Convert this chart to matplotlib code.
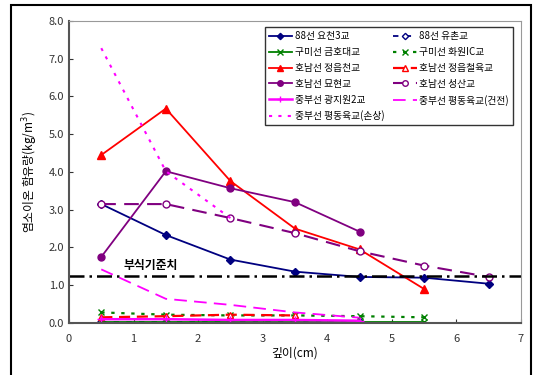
import matplotlib.pyplot as plt
from matplotlib.patches import Rectangle

plt.rcParams['font.family'] = ['Noto Sans CJK KR', 'DejaVu Sans']

depth = [0.5, 1.5, 2.5, 3.5, 4.5, 5.5, 6.5]

yocheon = [3.15, 2.33, 1.68, 1.36, 1.22, 1.20, 1.04]
yuchon = [0.03, 0.03, 0.03, 0.03, 0.03]
geumho = [0.02, 0.02, 0.02, 0.02, 0.02, 0.02]
hwawon = [0.28, 0.22, 0.20, 0.20, 0.18, 0.15]
jeongeup_cheon = [4.45, 5.68, 3.76, 2.50, 1.95, 0.90]
jeongeup_cheol = [0.15, 0.18, 0.22, 0.20]
myohyeon = [1.75, 4.02, 3.57, 3.20, 2.42]
seongsan = [3.15, 3.15, 2.78, 2.38, 1.90, 1.52, 1.22]
gwangjiwon = [0.10, 0.10, 0.08, 0.08, 0.06]
pyeongdong_good = [1.42, 0.64, 0.48, 0.28, 0.14]
pyeongdong_bad = [7.28, 4.02, 2.78]

limit = 1.25

fig = plt.figure(figsize=(5.36, 3.75), dpi=100)
ax = fig.add_axes([0.1287, 0.1387, 0.8433, 0.8053])

def plot(vals, label, **kw):
    ax.plot(depth[:len(vals)], vals, label=label, **kw)

plot(yocheon, '88선 요천3교', color='#000080', lw=1.3, marker='D', ms=4)
plot(yuchon, '88선 유촌교', color='#000080', lw=1.3, ls=(0, (3, 4)), marker='D', ms=4, mfc='white')
plot(geumho, '구미선 금호대교', color='#008000', lw=1.3, marker='x', ms=5)
plot(hwawon, '구미선 화원IC교', color='#008000', lw=1.6, ls=(0, (1.5, 3)), marker='x', ms=5)
plot(jeongeup_cheon, '호남선 정읍천교', color='red', lw=1.3, marker='^', ms=6)
plot(jeongeup_cheol, '호남선 정읍철육교', color='red', lw=1.6, ls=(0, (5, 3)), marker='^', ms=5, mfc='white')
plot(myohyeon, '호남선 묘현교', color='#800080', lw=1.3, marker='o', ms=5)
plot(seongsan, '호남선 성산교', color='#800080', lw=1.5, ls=(0, (7, 4)), marker='o', ms=5, mfc='white')
plot(gwangjiwon, '중부선 광지원2교', color='magenta', lw=1.8, marker='+', ms=6)
plot(pyeongdong_good, '중부선 평동육교(건전)', color='magenta', lw=1.3, ls=(0, (7, 4)))
plot(pyeongdong_bad, '중부선 평동육교(손상)', color='magenta', lw=1.5, ls=(0, (1.5, 3)))

ax.axhline(limit, color='black', lw=1.8, ls=(0, (6, 2, 1, 2)))
ax.text(0.85, 1.42, '부식기준치', fontsize=8.5, fontweight='bold')

ax.set_xlim(0, 7)
ax.set_ylim(0, 8)
ax.set_yticks([i * 1.0 for i in range(9)])
ax.set_yticklabels(['%.1f' % (i * 1.0) for i in range(9)])
ax.tick_params(direction='in', labelsize=8, colors='#333333', length=3)
ax.tick_params(axis='x', pad=8)
for s in ['top', 'right']:
    ax.spines[s].set_color('#999999')
for s in ['left', 'bottom']:
    ax.spines[s].set_color('#555555')
    ax.spines[s].set_linewidth(1.5)

ax.set_xlabel('깊이(cm)', fontsize=8.5, labelpad=2)
ax.set_ylabel('염소이온 함유량(kg/m$^3$)', fontsize=8.5, labelpad=6)

# legend is filled row by row in the original
handles, labels = ax.get_legend_handles_labels()
order = [0, 2, 4, 6, 8, 10, 1, 3, 5, 7, 9]
leg = ax.legend([handles[i] for i in order], [labels[i] for i in order],
                loc='upper right', ncol=2, fontsize=7, frameon=True, fancybox=False,
                edgecolor='black', borderpad=0.4, handlelength=2.4, labelspacing=0.6,
                columnspacing=0.9, handletextpad=0.3, markerscale=0.8,
                bbox_to_anchor=(0.993, 0.995))
leg.get_frame().set_linewidth(1.0)

fig.patches.append(Rectangle((11 / 536, -0.02), 520 / 536, 1 - 5 / 375 + 0.02,
                             transform=fig.transFigure, fill=False, ec='black', lw=1.5))

fig.savefig('out.png', dpi=100)
